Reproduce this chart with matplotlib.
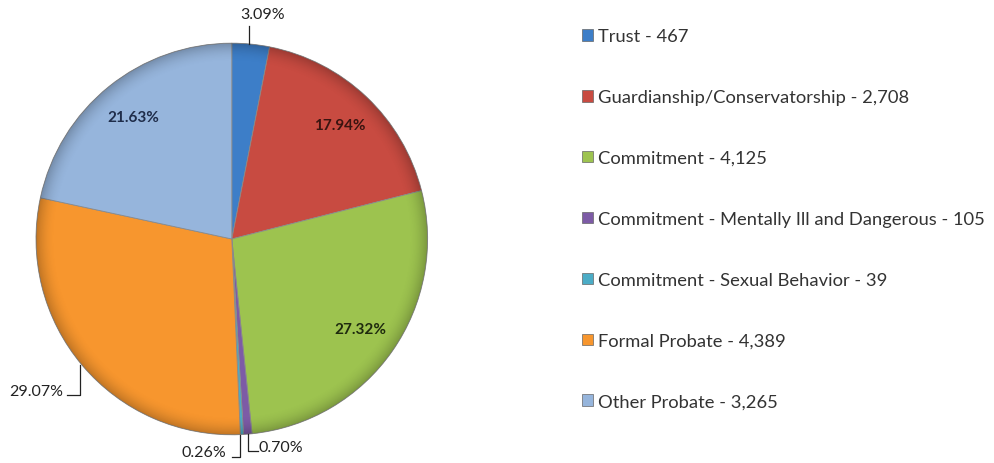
import numpy as np
import matplotlib.pyplot as plt
from matplotlib.patches import Patch, Circle

categories = ['Trust', 'Guardianship/Conservatorship', 'Commitment',
              'Commitment - Mentally Ill and Dangerous',
              'Commitment - Sexual Behavior', 'Formal Probate', 'Other Probate']
counts = [467, 2708, 4125, 105, 39, 4389, 3265]
count_labels = ['467', '2,708', '4,125', '105', '39', '4,389', '3,265']

colors = ['#3d7ec8', '#c84b41', '#9dc34f', '#7d5ba6', '#4bacc6', '#f7962e', '#96b5dc']
inside_colors = {1: '#3a1410', 2: '#1e2a0e', 6: '#1f2d4a'}

# outside labels: (elbow point, end of leader, text pos, ha)
outside = {
    0: ((0.087, 1.087), None, (0.158, 1.15), 'center'),
    3: ((0.082, -1.082), (0.133, -1.082), (0.138, -1.061), 'left'),
    4: ((0.041, -1.112), (0.0, -1.112), (-0.026, -1.087), 'right'),
    5: ((-0.776, -0.796), (-0.842, -0.796), (-0.862, -0.776), 'right'),
}

plt.rcParams['font.family'] = ['Lato', 'DejaVu Sans']

fig = plt.figure(figsize=(9.94, 4.64), dpi=100)
ax = fig.add_axes([0.0362, 0.0603, 0.394, 0.845])

wedges, _ = ax.pie(counts, colors=colors, startangle=90, counterclock=False,
                   wedgeprops=dict(edgecolor='#8a8a8a', linewidth=0.6))
ax.set_xlim(-1, 1)
ax.set_ylim(-1, 1)
ax.set_aspect('equal')
ax.axis('off')

# soft bevel shading toward the rim, like the original 3-D style
g = np.linspace(-1, 1, 400)
gx, gy = np.meshgrid(g, g)
rr = np.sqrt(gx ** 2 + gy ** 2)
shade = np.zeros((400, 400, 4))
shade[..., 3] = np.clip((rr - 0.9) / 0.1, 0, 1) ** 2 * 0.22
img = ax.imshow(shade, extent=(-1, 1, -1, 1), origin='lower', zorder=3,
                interpolation='bilinear')
img.set_clip_path(Circle((0, 0), 1, transform=ax.transData))

total = sum(counts)
for i, w in enumerate(wedges):
    pct = 100.0 * counts[i] / total
    mid = np.deg2rad((w.theta1 + w.theta2) / 2)
    x, y = np.cos(mid), np.sin(mid)
    txt = f'{pct:.2f}%'
    if i in outside:
        elbow, end, tpos, ha = outside[i]
        xs = [elbow[0], elbow[0]]
        ys = [y, elbow[1]]
        if end is not None:
            xs.append(end[0])
            ys.append(end[1])
        ax.plot(xs, ys, color='#222222', lw=0.9, clip_on=False, zorder=4)
        ax.text(tpos[0], tpos[1], txt, ha=ha, va='center', fontsize=11.5,
                color='#222222', clip_on=False)
    else:
        ax.text(0.8 * x, 0.8 * y, txt, ha='center', va='center', fontsize=11,
                fontweight='bold', color=inside_colors.get(i, '#222222'), zorder=5)

handles = [Patch(facecolor=c, edgecolor='#666666', linewidth=0.5) for c in colors]
labels = [f'{c} - {n}' for c, n in zip(categories, count_labels)]
fig.legend(handles, labels, loc='upper left', bbox_to_anchor=(0.586, 0.937),
           frameon=False, fontsize=13.2, handlelength=0.6, handleheight=0.6,
           handletextpad=0.25, labelspacing=2.45, borderpad=0, borderaxespad=0,
           labelcolor='#333333')

fig.savefig('out.png', dpi=100, facecolor='white')
